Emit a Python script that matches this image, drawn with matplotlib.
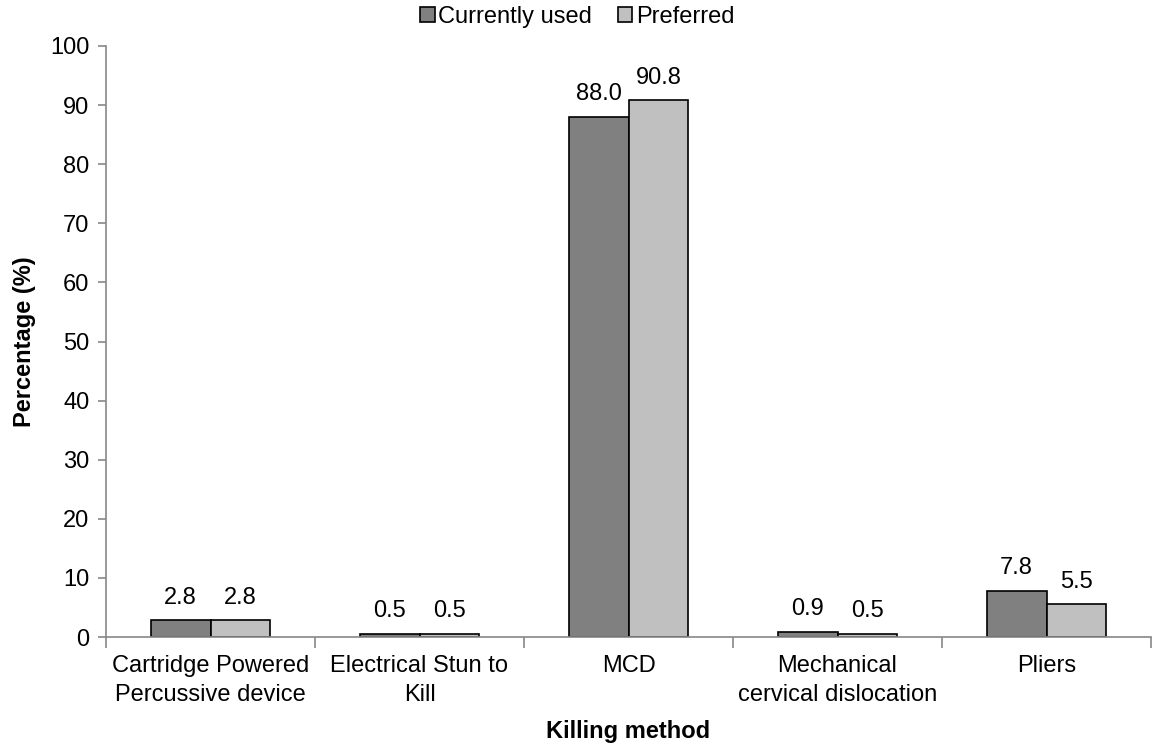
import numpy as np
import matplotlib.pyplot as plt

plt.rcParams['font.family'] = ['Liberation Sans', 'DejaVu Sans']

methods = ['Cartridge Powered\nPercussive device', 'Electrical Stun to\nKill', 'MCD',
           'Mechanical\ncervical dislocation', 'Pliers']
currently_used = [2.8, 0.5, 88.0, 0.9, 7.8]
preferred = [2.8, 0.5, 90.8, 0.5, 5.5]

fs = 17

fig = plt.figure(figsize=(11.55, 7.46), dpi=100)
ax = fig.add_axes([106 / 1155, 1 - 637 / 746, 1045 / 1155, 591 / 746])

x = np.arange(len(methods))
width = 0.287
b1 = ax.bar(x - width / 2, currently_used, width, color='#808080', edgecolor='black',
            linewidth=1.2, label='Currently used')
b2 = ax.bar(x + width / 2, preferred, width, color='#c0c0c0', edgecolor='black',
            linewidth=1.2, label='Preferred')

for bars in (b1, b2):
    for r in bars:
        ax.text(r.get_x() + r.get_width() / 2, r.get_height() + 2.0, f'{r.get_height():.1f}',
                ha='center', va='bottom', fontsize=fs)

ax.set_xlim(-0.5, len(methods) - 0.5)
ax.set_ylim(0, 100)
ax.set_yticks(range(0, 101, 10))
ax.tick_params(axis='y', labelsize=fs, color='#888888', length=6, width=1.2, pad=6)

ax.set_xticks(x)
ax.set_xticklabels(methods, fontsize=fs, linespacing=1.4)
ax.tick_params(axis='x', length=0, pad=13)
ax.set_xticks(np.arange(-0.5, len(methods)), minor=True)
ax.tick_params(axis='x', which='minor', length=8, color='#888888', width=1.2)

for s in ('top', 'right'):
    ax.spines[s].set_visible(False)
for s in ('left', 'bottom'):
    ax.spines[s].set_color('#888888')
    ax.spines[s].set_linewidth(1.2)

ax.set_ylabel('Percentage (%)', fontsize=fs, fontweight='bold', labelpad=10)
ax.set_xlabel('Killing method', fontsize=fs, fontweight='bold', labelpad=10)

ax.legend(loc='center', bbox_to_anchor=(0.451, 1.049), ncol=2, frameon=False,
          fontsize=fs, handlelength=0.6, handleheight=0.6, handletextpad=0.15,
          columnspacing=1.1, borderaxespad=0, borderpad=0)

fig.savefig('out.png', dpi=100)
